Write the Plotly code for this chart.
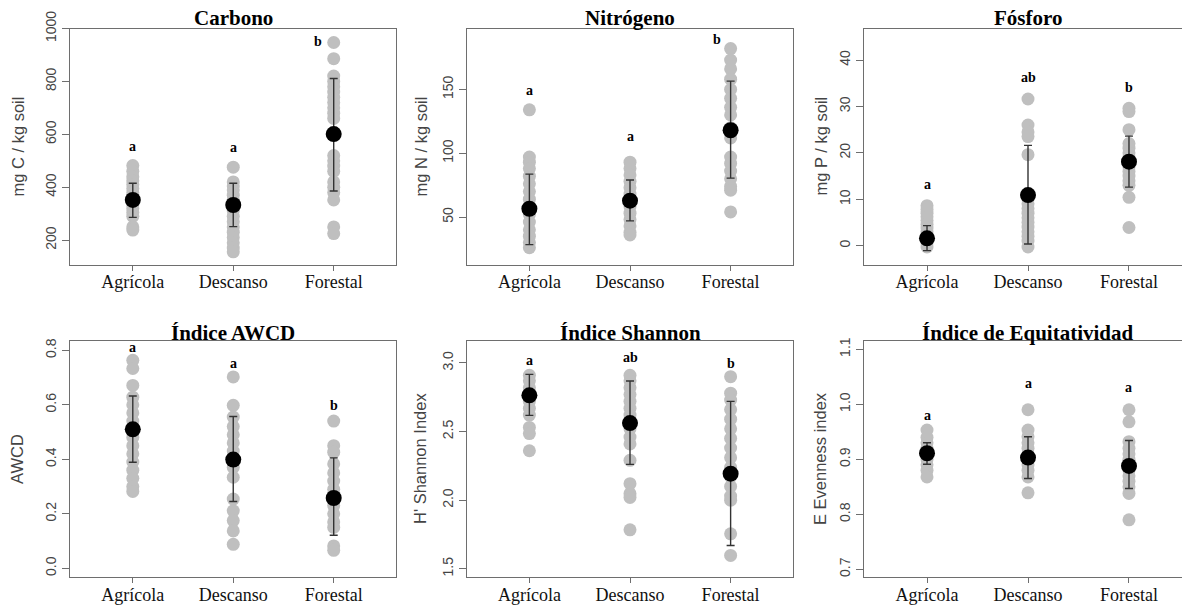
import plotly.graph_objects as go

W, H = 1182, 606
OFF = 0  # body margin removed via post_script below
categories = ["Agrícola", "Descanso", "Forestal"]

# ---- data ----
titles = ["Carbono", "Nitrógeno", "Fósforo", "Índice AWCD", "Índice Shannon", "Índice de Equitatividad"]
ytitles = ["mg C / kg soil", "mg N / kg soil", "mg P / kg soil", "AWCD", "H' Shannon Index", "E Evenness index"]

carbono_agr = [482, 460, 440, 425, 410, 395, 380, 365, 350, 335, 320, 305, 290, 250, 238]
carbono_des = [476, 420, 405, 390, 370, 350, 330, 310, 290, 270, 250, 230, 210, 190, 170, 156]
carbono_for = [947, 886, 820, 800, 780, 760, 740, 720, 700, 680, 660, 520, 500, 480, 460, 420, 400, 380, 352, 250, 225]
carbono_mean = [352, 333, 601]
carbono_lo = [286, 251, 386]
carbono_hi = [415, 415, 811]

nitro_agr = [134, 97, 93, 88, 82, 76, 70, 64, 58, 52, 46, 40, 35, 30, 26]
nitro_des = [93, 88, 83, 78, 73, 68, 63, 58, 53, 48, 43, 38, 36]
nitro_for = [182, 173, 166, 158, 150, 143, 136, 130, 120, 112, 97, 92, 86, 80, 74, 71, 54]
nitro_mean = [56.5, 62.8, 118]
nitro_lo = [28.4, 47, 80.5]
nitro_hi = [83.6, 79, 156.5]

fosf_agr = [8.6, 7.8, 7.0, 6.2, 5.4, 4.6, 3.8, 3.0, 2.2, 1.4, 0.6, -0.3]
fosf_des = [31.6, 26, 24.5, 23.5, 19.6, 10, 9, 8, 7, 6, 5, 4, 3, 2, 1, -0.3]
fosf_for = [29.6, 28.9, 25, 22, 21, 20, 19, 18, 17, 16, 15, 14, 13, 10.4, 3.9]
fosf_mean = [1.57, 10.9, 18.1]
fosf_lo = [-1.07, 0.36, 12.6]
fosf_hi = [4.3, 21.6, 23.6]

awcd_agr = [0.763, 0.733, 0.671, 0.628, 0.60, 0.57, 0.54, 0.51, 0.48, 0.45, 0.42, 0.39, 0.36, 0.33, 0.30, 0.282]
awcd_des = [0.702, 0.598, 0.555, 0.52, 0.49, 0.46, 0.43, 0.40, 0.37, 0.334, 0.254, 0.211, 0.175, 0.137, 0.088]
awcd_for = [0.540, 0.450, 0.426, 0.383, 0.35, 0.32, 0.29, 0.26, 0.23, 0.20, 0.17, 0.15, 0.082, 0.066]
awcd_mean = [0.510, 0.399, 0.258]
awcd_lo = [0.389, 0.245, 0.121]
awcd_hi = [0.632, 0.557, 0.405]

shan_agr = [2.91, 2.87, 2.82, 2.77, 2.72, 2.67, 2.62, 2.53, 2.485, 2.36]
shan_des = [2.91, 2.87, 2.82, 2.77, 2.72, 2.67, 2.62, 2.57, 2.52, 2.46, 2.41, 2.29, 2.12, 2.047, 2.02, 1.784]
shan_for = [2.90, 2.78, 2.73, 2.66, 2.59, 2.52, 2.45, 2.38, 2.31, 2.24, 2.17, 2.10, 2.03, 2.0, 1.755, 1.597]
shan_mean = [2.764, 2.562, 2.193]
shan_lo = [2.618, 2.261, 1.67]
shan_hi = [2.917, 2.869, 2.72]

equi_agr = [0.953, 0.94, 0.93, 0.92, 0.91, 0.90, 0.89, 0.88, 0.868]
equi_des = [0.990, 0.953, 0.941, 0.93, 0.92, 0.91, 0.90, 0.89, 0.88, 0.868, 0.839]
equi_for = [0.990, 0.968, 0.932, 0.92, 0.91, 0.90, 0.89, 0.88, 0.87, 0.86, 0.85, 0.838, 0.790]
equi_mean = [0.911, 0.903, 0.888]
equi_lo = [0.891, 0.865, 0.847]
equi_hi = [0.930, 0.941, 0.934]

letters_text = [["a", "a", "b"], ["a", "a", "b"], ["a", "ab", "b"],
                ["a", "a", "b"], ["a", "ab", "b"], ["a", "a", "a"]]
letters_x = [[1, 2, 2.84], [1, 2, 2.86], [1, 2, 3], [1, 2, 3], [1, 2, 3], [1, 2, 3]]
letters_y = [[554, 550, 949], [149, 113, 189], [13.2, 36.3, 34.1],
             [0.809, 0.753, 0.598], [3.02, 3.04, 2.995], [0.979, 1.037, 1.031]]

yranges = [[108, 1000], [12.8, 197.7], [-4.07, 46.8], [-0.032, 0.834], [1.44, 3.16], [0.686, 1.115]]
ytickvals = [[200, 400, 600, 800, 1000], [50, 100, 150], [0, 10, 20, 30, 40],
             [0.0, 0.2, 0.4, 0.6, 0.8], [1.5, 2.0, 2.5, 3.0], [0.7, 0.8, 0.9, 1.0, 1.1]]
ytickfmt = ["", "", "", ".1f", ".1f", ".1f"]

panels = [
    ([carbono_agr, carbono_des, carbono_for], carbono_mean, carbono_lo, carbono_hi),
    ([nitro_agr, nitro_des, nitro_for], nitro_mean, nitro_lo, nitro_hi),
    ([fosf_agr, fosf_des, fosf_for], fosf_mean, fosf_lo, fosf_hi),
    ([awcd_agr, awcd_des, awcd_for], awcd_mean, awcd_lo, awcd_hi),
    ([shan_agr, shan_des, shan_for], shan_mean, shan_lo, shan_hi),
    ([equi_agr, equi_des, equi_for], equi_mean, equi_lo, equi_hi),
]

# ---- layout geometry (screen pixels of the reference) ----
cols_px = [(70, 396), (467, 793), (864, 1182)]
xranges = [[0.375, 3.62], [0.38, 3.62], [0.376, 3.525]]
rows_px = [(28.5, 264.5), (341, 577)]
title_y_px = [18, 333]
ytitle_x_px = [17, 420, 820]


def fx(px):
    return (px - OFF) / W


def fy(py):
    return 1 - (py - OFF) / H


SERIF = "Liberation Serif, Times New Roman, serif"
SANS = "Liberation Sans, Arial, sans-serif"
FRAME = "#6e6e6e"

fig = go.Figure()
layout = dict(width=W, height=H, margin=dict(l=0, r=0, t=0, b=0, autoexpand=False),
              plot_bgcolor="white", paper_bgcolor="white", showlegend=False,
              template="none")
annotations = []

for i, (groups, mean, lo, hi) in enumerate(panels):
    r, c = divmod(i, 3)
    n = i + 1
    xa = "x" if n == 1 else f"x{n}"
    ya = "y" if n == 1 else f"y{n}"
    xk = "xaxis" if n == 1 else f"xaxis{n}"
    yk = "yaxis" if n == 1 else f"yaxis{n}"
    x0, x1 = cols_px[c]
    y0, y1 = rows_px[r]
    last_col = (c == 2)
    layout[xk] = dict(domain=[fx(x0), min(fx(x1), 1.0)], range=xranges[c], anchor=ya,
                      tickvals=[1, 2, 3], ticktext=categories, ticks="outside", ticklen=5,
                      tickcolor=FRAME, showline=True, linecolor=FRAME, linewidth=1,
                      mirror=True, showgrid=False, zeroline=False, automargin=False,
                      ticklabelstandoff=-4,
                      tickfont=dict(family=SERIF, size=18, color="#111"))
    layout[yk] = dict(domain=[fy(y1), fy(y0)], range=yranges[i], anchor=xa,
                      tickvals=ytickvals[i], tickformat=ytickfmt[i], ticks="outside", ticklen=7,
                      tickcolor=FRAME, showline=True, linecolor=FRAME, linewidth=1,
                      mirror=(not last_col), showgrid=False, zeroline=False, tickangle=-90,
                      automargin=False,
                      tickfont=dict(family=SANS, size=14, color="#444"))
    for k, g in enumerate(groups):
        fig.add_trace(go.Scatter(x=[k + 1] * len(g), y=g, mode="markers", xaxis=xa, yaxis=ya,
                                 marker=dict(size=13, color="#bfbfbf", line=dict(width=0)),
                                 hoverinfo="skip"))
    fig.add_trace(go.Scatter(x=[1, 2, 3], y=mean, mode="markers", xaxis=xa, yaxis=ya,
                             marker=dict(size=16, color="black", line=dict(width=0)),
                             error_y=dict(type="data", symmetric=False,
                                          array=[h - m for h, m in zip(hi, mean)],
                                          arrayminus=[m - l for m, l in zip(mean, lo)],
                                          color="#333333", thickness=1.4, width=4)))
    for t, lx, ly in zip(letters_text[i], letters_x[i], letters_y[i]):
        annotations.append(dict(text=f"<b>{t}</b>", x=lx, y=ly, xref=xa, yref=ya, showarrow=False,
                                font=dict(family=SERIF, size=14, color="black"),
                                xanchor="center", yanchor="middle"))
    annotations.append(dict(text=f"<b>{titles[i]}</b>", x=2, xref=xa, y=fy(title_y_px[r]),
                            yref="paper", showarrow=False, xanchor="center", yanchor="middle",
                            font=dict(family=SERIF, size=21, color="black")))
    annotations.append(dict(text=ytitles[i], x=fx(ytitle_x_px[c]), xref="paper",
                            y=fy((y0 + y1) / 2), yref="paper", textangle=-90,
                            showarrow=False, xanchor="center", yanchor="middle",
                            font=dict(family=SANS, size=16.5, color="#444")))

layout["annotations"] = annotations
fig.update_layout(**layout)
fig.write_html("out.html", config={"displayModeBar": False},
               post_script="document.body.style.margin='0';")
